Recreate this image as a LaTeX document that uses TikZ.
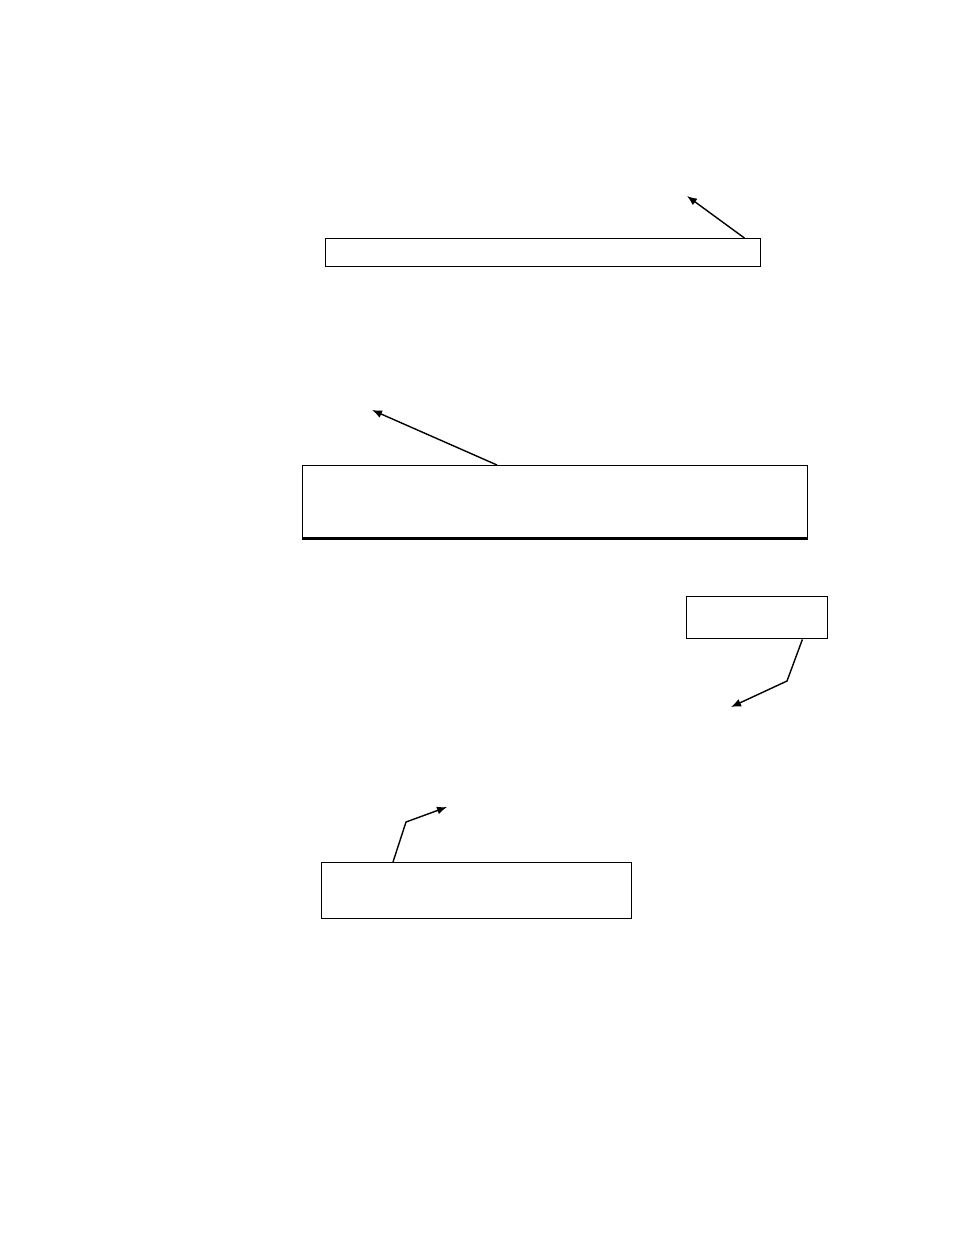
\documentclass[tikz,border=0pt]{standalone}
\usetikzlibrary{arrows.meta}
\begin{document}
\begin{tikzpicture}[x=1pt,y=-1pt,
  box/.style={draw=black,line width=1.4pt,fill=white,inner sep=0pt,anchor=north west},
  conn/.style={draw=black,line width=1.4pt,-{Latex[length=10pt,width=8pt]}}]
\useasboundingbox (0,0) rectangle (954,1235);
\node[box,minimum width=435pt,minimum height=28pt] (b1) at (325,238) {};
\node[box,minimum width=505pt,minimum height=72pt] (b2) at (302,465) {};
\draw[line width=2.2pt] (b2.south west) -- (b2.south east);
\node[box,minimum width=141pt,minimum height=42pt] (b3) at (686,596) {};
\node[box,minimum width=310pt,minimum height=56pt] (b4) at (321,862) {};
\coordinate (t1) at (687,196);
\coordinate (t2) at (372,410);
\coordinate (k3) at (787,681);
\coordinate (t3) at (731,707);
\coordinate (k4) at (406,822);
\coordinate (t4) at (447,807);
\draw[conn] ([xshift=-17pt]b1.north east) -- (t1);
\draw[conn] ([xshift=195pt]b2.north west) -- (t2);
\draw[conn] ([xshift=-26pt]b3.south east) -- (k3) -- (t3);
\draw[conn] ([xshift=72pt]b4.north west) -- (k4) -- (t4);
\end{tikzpicture}
\end{document}
